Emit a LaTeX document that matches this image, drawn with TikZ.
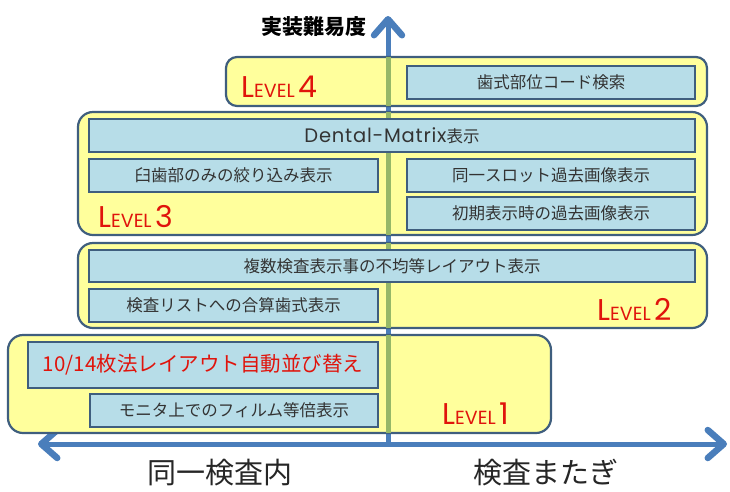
\documentclass[tikz,border=0pt]{standalone}
\usepackage{fontspec}
\setmainfont{Noto Sans CJK JP}
\newfontfamily\lvfont{Poppins}
\newfontfamily\dmfont[LetterSpace=4]{Poppins}
\usetikzlibrary{arrows.meta}
\definecolor{panelfill}{HTML}{FFFF9C}
\definecolor{itemfill}{HTML}{B7DDE8}
\definecolor{edgecol}{HTML}{3F5E7E}
\definecolor{axisblue}{HTML}{4A7EBB}
\definecolor{axisgreen}{HTML}{96B868}
\definecolor{lvred}{HTML}{E0140C}
\definecolor{txtcol}{HTML}{333333}
\newcommand{\lvtext}[1]{{\lvfont\fontsize{30}{30}\selectfont L\fontsize{19}{19}\selectfont EVEL\hspace{4pt}\fontsize{30}{30}\selectfont #1}}
\tikzset{
  panel/.style={draw=edgecol, line width=2.2pt, fill=panelfill, rounded corners=11pt, inner sep=0pt},
  item/.style={draw=edgecol, line width=2pt, fill=itemfill, inner sep=0pt, text=txtcol, font=\fontsize{16.5}{16.5}\selectfont},
  lvlabel/.style={anchor=base west, text=lvred, inner sep=0pt},
  axisline/.style={draw=axisblue, line width=5pt, {Straight Barb[length=16pt,width=28pt,line width=6.5pt,round]}-{Straight Barb[length=16pt,width=28pt,line width=6.5pt,round]}},
  vaxis/.style={draw=axisblue, line width=5pt, -{Straight Barb[length=16pt,width=28pt,line width=6.5pt,round]}},
  greenline/.style={draw=axisgreen, line width=5pt, shorten <=1.2pt, shorten >=1.2pt},
  axlabel/.style={text=black!85, font=\fontsize{29}{29}\selectfont, inner sep=0pt},
}
\begin{document}
\begin{tikzpicture}[x=1pt,y=-1pt]
\useasboundingbox (0,0) rectangle (730,491);
% axes
\coordinate (origin) at (388,444);
\coordinate (xleft) at (38,444);
\coordinate (xright) at (727,444);
\coordinate (ytop) at (388,16);
\draw[vaxis] (origin) -- (ytop);
\draw[axisline] (xleft) -- (xright);
% panels
\node[panel, minimum width=481pt, minimum height=49pt] (p4) at (466.5,81.5) {};
\node[panel, rounded corners=15pt, minimum width=629pt, minimum height=123pt] (p3) at (392.5,173.5) {};
\node[panel, rounded corners=15pt, minimum width=629pt, minimum height=85pt] (p2) at (392.5,285.5) {};
\node[panel, rounded corners=15pt, minimum width=543pt, minimum height=98pt] (p1) at (279.5,384) {};
% green centre line inside each panel
\foreach \p in {p4,p3,p2,p1}{
  \draw[greenline] (\p.north -| origin) -- (\p.south -| origin);
}
% items
\node[item, minimum width=288pt, minimum height=33pt] (i41) at (551,82.5) {歯式部位コード検索};
\node[item, minimum width=606pt, minimum height=33pt] (i31) at (392,135.5) {{\dmfont\fontsize{19.5}{19.5}\selectfont Dental-Matrix}表示};
\node[item, minimum width=289pt, minimum height=33pt] (i32) at (233.5,175) {臼歯部のみの絞り込み表示};
\node[item, minimum width=288pt, minimum height=33pt] (i33) at (551,175) {同一スロット過去画像表示};
\node[item, minimum width=288pt, minimum height=33pt] (i34) at (551,213.5) {初期表示時の過去画像表示};
\node[item, minimum width=606pt, minimum height=32pt] (i21) at (392,266) {複数検査表示事の不均等レイアウト表示};
\node[item, minimum width=289pt, minimum height=33pt] (i22) at (233.5,305) {検査リストへの合算歯式表示};
\node[item, minimum width=350pt, minimum height=46pt, text=lvred, font=\fontsize{20.5}{20.5}\selectfont] (i11) at (203,365) {10/14枚法レイアウト自動並び替え};
\node[item, minimum width=288pt, minimum height=33pt] (i12) at (234,410.5) {モニタ上でのフィルム等倍表示};
% level labels
\node[lvlabel] (l4) at (241,97) {\lvtext{4}};
\node[lvlabel] (l3) at (98,227) {\lvtext{3}};
\node[lvlabel] (l2) at (597,320) {\lvtext{2}};
\node[lvlabel] (l1) at (442,424) {\lvtext{1}};
% axis labels
\node[inner sep=0pt, font=\bfseries\fontsize{21}{21}\selectfont] (ttl) at (314,27) {実装難易度};
\node[axlabel] (xl) at (220,473) {同一検査内};
\node[axlabel] (xr) at (546,473) {検査またぎ};
\end{tikzpicture}
\end{document}
